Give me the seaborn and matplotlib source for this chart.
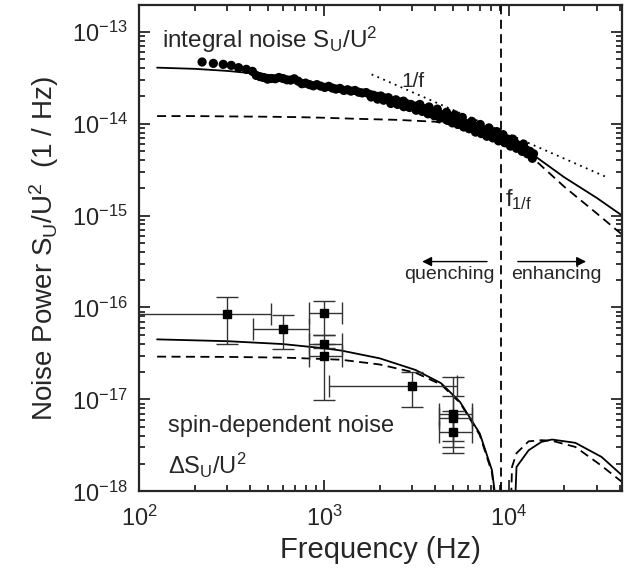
import numpy as np
import pandas as pd
import seaborn as sb
import matplotlib
matplotlib.use("Agg")
import matplotlib.pyplot as plt
from matplotlib.ticker import FixedLocator, LogLocator, NullFormatter

sb.set_style("ticks")
plt.rcParams['font.family'] = ['Liberation Sans', 'DejaVu Sans']
plt.rcParams['mathtext.fontset'] = 'custom'
plt.rcParams['mathtext.rm'] = 'Liberation Sans'
plt.rcParams['mathtext.it'] = 'Liberation Sans'
plt.rcParams['axes.unicode_minus'] = False

# integral noise, measured spectrum (Hz, 1/Hz)
meas_f = [219, 252, 285, 315, 345, 380, 410,
          430, 450, 470, 495, 520, 545, 570, 600, 630, 660, 690, 725, 760, 795,
          835, 875, 915, 960, 1010, 1060, 1110, 1160, 1220, 1280, 1340, 1400,
          1470, 1540, 1610, 1690, 1770, 1850, 1940, 2030, 2130, 2230, 2340,
          2450, 2570, 2690, 2820, 2950, 3090, 3240, 3390, 3550, 3720, 3900,
          4080, 4280, 4480, 4690, 4910, 5150, 5390, 5650, 5910, 6190, 6490,
          6800, 7120, 7460, 7810, 8180, 8570, 8980, 9400, 9850, 10300, 10800,
          11300, 11900, 12400, 13000, 13600]
meas_s = [4.69, 4.53, 4.42, 4.31, 4.07, 3.90, 3.71,
          3.35, 3.25, 3.18, 3.05, 3.10, 3.08, 3.18, 3.10, 3.00, 2.98, 3.08, 2.90,
          2.72, 2.76, 2.66, 2.58, 2.66, 2.56, 2.48, 2.55, 2.44, 2.38, 2.42, 2.30,
          2.34, 2.26, 2.30, 2.20, 2.16, 2.18, 2.08, 2.04, 1.98, 2.00, 1.90, 1.92,
          1.70, 1.82, 1.72, 1.76, 1.64, 1.62, 1.55, 1.58, 1.48, 1.45, 1.40, 1.35,
          1.32, 1.26, 1.22, 1.20, 1.14, 1.12, 1.08, 1.04, 1.00, 0.98, 0.94, 0.92,
          0.88, 0.84, 0.82, 0.78, 0.75, 0.72, 0.70, 0.68, 0.64, 0.62, 0.58, 0.56,
          0.52, 0.50, 0.47]
# scatter of the same spectrum (band is thick at high f)
band_f = [1800, 1950, 2100, 2300, 2500, 2700, 2900, 3150, 3400, 3650, 3950, 4250,
          4600, 4950, 5300, 5700, 6100, 6600, 7100, 7600, 8200, 8800, 9500, 10200,
          11000, 11800, 12600, 13400,
          3300, 3700, 4100, 4600, 5100, 5600, 6300, 7000, 7800, 8600, 9300, 10500, 12000]
band_s = [1.95, 1.85, 1.80, 1.66, 1.62, 1.53, 1.50, 1.40, 1.36, 1.28, 1.22, 1.15,
          1.10, 1.02, 0.98, 0.92, 0.88, 0.81, 0.78, 0.73, 0.70, 0.65, 0.62, 0.57,
          0.54, 0.50, 0.47, 0.42,
          1.62, 1.52, 1.44, 1.33, 1.25, 1.17, 1.06, 0.98, 0.90, 0.82, 0.76, 0.68, 0.60]

meas = pd.DataFrame({'f': meas_f + band_f, 's': [v * 1e-14 for v in meas_s + band_s]})

# integral noise fits
int_f = [125, 200, 300, 500, 700, 1000, 1500, 2500, 4000, 6000, 9000, 13700, 20000, 30000, 41000]
int_total = [4.07e-14, 3.95e-14, 3.75e-14, 3.4e-14, 3.05e-14, 2.6e-14, 2.2e-14, 1.75e-14,
             1.35e-14, 1.0e-14, 7.2e-15, 4.5e-15, 2.6e-15, 1.55e-15, 1.0e-15]
int_lor = [1.21e-14, 1.21e-14, 1.2e-14, 1.19e-14, 1.18e-14, 1.16e-14, 1.13e-14, 1.1e-14,
           1.05e-14, 9.0e-15, 6.9e-15, 4.1e-15, 2.05e-15, 1.05e-15, 6.2e-16]

# 1/f guide
guide_f = [1810, 34100]
guide_s = [3.44e-14, 2.6e-15]

# spin-dependent noise
spin_f = [300, 600, 1000, 1000, 1000, 3000, 5000, 5000, 5000]
spin_s = [8.45e-17, 5.85e-17, 8.7e-17, 4.0e-17, 3.0e-17, 1.4e-17, 7.0e-18, 6.2e-18, 4.4e-18]
spin_f_lo = [80, 412, 828, 828, 828, 1060, 4200, 4200, 4200]
spin_f_hi = [515, 828, 1250, 1250, 1250, 5250, 6350, 6350, 6350]
spin_s_lo = [4.0e-17, 3.5e-17, 5.0e-17, 3.6e-17, 9.9e-18, 8.3e-18, 3.0e-18, 3.5e-18, 2.6e-18]
spin_s_hi = [1.3e-16, 8.3e-17, 1.19e-16, 5.0e-17, 4.0e-17, 1.97e-17, 1.76e-17, 1.1e-17, 7.5e-18]

spin_fit_f = [125, 300, 600, 1000, 1240, 2000, 3130, 4300, 5440, 6960, 8100, 8500, 8700,
              10000, 10400, 11000, 12800, 15000, 17100, 22900, 31700, 41000]
spin_total = [4.5e-17, 4.3e-17, 4.0e-17, 3.6e-17, 3.4e-17, 2.8e-17, 2.09e-17, 1.5e-17,
              9.4e-18, 4.26e-18, 1.7e-18, 8e-19, 1e-19,
              1e-19, 1e-19, 1.84e-18, 2.8e-18, 3.45e-18, 3.66e-18, 3.37e-18, 2.37e-18, 1.49e-18]
spin_lor = [2.92e-17, 2.9e-17, 2.85e-17, 2.75e-17, 2.7e-17, 2.4e-17, 1.95e-17, 1.45e-17,
            9.2e-18, 4.1e-18, 1.6e-18, 7e-19, 1e-19,
            1e-19, 1.84e-18, 2.6e-18, 3.5e-18, 3.6e-18, 3.55e-18, 3.04e-18, 1.9e-18, 1.26e-18]

f_corner = 9060

fig = plt.figure(figsize=(6.24, 5.68), dpi=100)
ax = fig.add_axes([0.223, 0.135, 0.774, 0.856])
ax.set_xscale('log')
ax.set_yscale('log')

sb.scatterplot(x='f', y='s', data=meas, ax=ax, color='black', s=44, edgecolor='none', zorder=3)

fits = pd.DataFrame({'f': int_f, 'total': int_total, 'lor': int_lor})
sb.lineplot(x='f', y='total', data=fits, ax=ax, color='black', linewidth=1.3, zorder=2)
sb.lineplot(x='f', y='lor', data=fits, ax=ax, color='black', linewidth=1.3, zorder=2,
            linestyle=(0, (5, 3)))
ax.plot(guide_f, guide_s, color='black', linestyle=(0, (1, 2.5)), linewidth=1.3, zorder=1)

spin_fit = pd.DataFrame({'f': spin_fit_f, 'total': spin_total, 'lor': spin_lor})
sb.lineplot(x='f', y='total', data=spin_fit, ax=ax, color='black', linewidth=1.3, zorder=2)
sb.lineplot(x='f', y='lor', data=spin_fit, ax=ax, color='black', linewidth=1.3, zorder=2,
            linestyle=(0, (5, 3)))

sf = np.array(spin_f, dtype=float)
ss = np.array(spin_s)
xerr = [sf - np.array(spin_f_lo), np.array(spin_f_hi) - sf]
yerr = [ss - np.array(spin_s_lo), np.array(spin_s_hi) - ss]
ax.errorbar(sf, ss, xerr=xerr, yerr=yerr, fmt='s', color='black', ecolor='#333333',
            markersize=5.5, elinewidth=1.0, capsize=8, capthick=1.0, zorder=4)

ax.axvline(f_corner, color='black', linestyle=(0, (5, 3)), linewidth=1.3)

ax.annotate('', xy=(3280, 3.16e-16), xytext=(7890, 3.16e-16),
            arrowprops=dict(arrowstyle='-|>', color='black', lw=1.0, mutation_scale=14))
ax.annotate('', xy=(27100, 3.16e-16), xytext=(10800, 3.16e-16),
            arrowprops=dict(arrowstyle='-|>', color='black', lw=1.0, mutation_scale=14))
ax.text(4750, 2.26e-16, 'quenching', fontsize=14, ha='center', va='center')
ax.text(18000, 2.26e-16, 'enhancing', fontsize=14, ha='center', va='center')
ax.text(133, 8.1e-14, r'integral noise S$_\mathrm{U}$/U$^2$', fontsize=17.5, va='center')
ax.text(2620, 2.9e-14, '1/f', fontsize=15, va='center')
ax.text(9550, 1.49e-15, r'f$_\mathrm{1/f}$', fontsize=17, va='center')
ax.text(144, 5.1e-18, 'spin-dependent noise', fontsize=17, va='center')
ax.text(144, 1.92e-18, r'$\Delta$S$_\mathrm{U}$/U$^2$', fontsize=17, va='center')

ax.set_xlim(100, 41000)
ax.set_ylim(1e-18, 1.95e-13)
ax.set_xlabel('Frequency (Hz)', fontsize=21, labelpad=4)
ax.set_ylabel(r'Noise Power S$_\mathrm{U}$/U$^2$  (1 / Hz)', fontsize=20, labelpad=8)

ax.xaxis.set_major_locator(FixedLocator([1e2, 1e3, 1e4]))
ax.yaxis.set_major_locator(FixedLocator([1e-18, 1e-17, 1e-16, 1e-15, 1e-14, 1e-13]))
ax.xaxis.set_minor_locator(LogLocator(base=10, subs=np.arange(2, 10), numticks=20))
ax.yaxis.set_minor_locator(LogLocator(base=10, subs=np.arange(2, 10), numticks=20))
ax.xaxis.set_minor_formatter(NullFormatter())
ax.yaxis.set_minor_formatter(NullFormatter())
ax.tick_params(which='both', direction='in', top=True, right=True, width=1.3, labelsize=17)
ax.tick_params(axis='x', pad=10)
ax.tick_params(axis='y', pad=8)
ax.tick_params(which='major', length=8)
ax.tick_params(which='minor', length=4)
for sp in ax.spines.values():
    sp.set_linewidth(1.6)

fig.savefig('out.png', dpi=100)
